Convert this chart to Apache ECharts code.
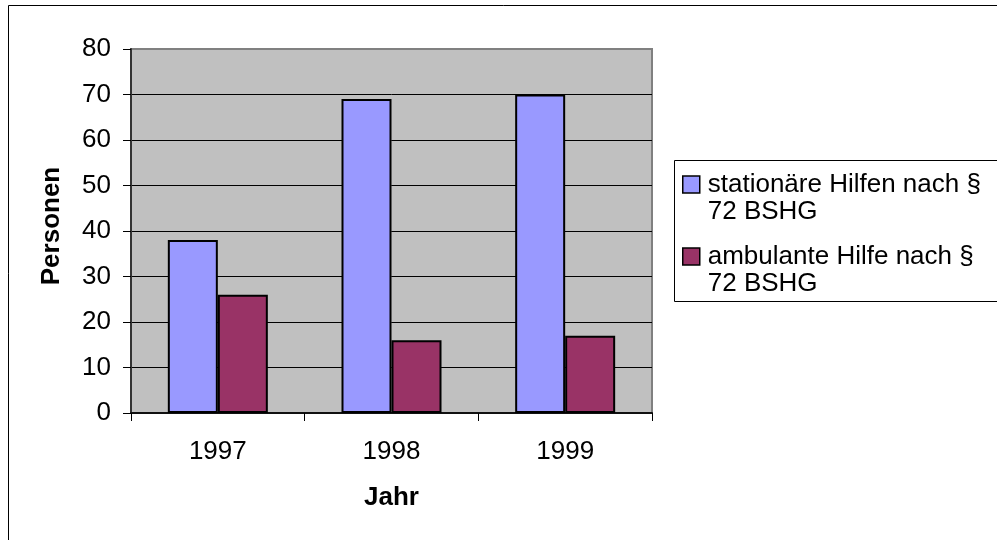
<!DOCTYPE html>
<html>
<head>
<meta charset="utf-8">
<script src="https://cdn.jsdelivr.net/npm/echarts@6/dist/echarts.min.js"></script>
<style>
  html, body { margin: 0; padding: 0; background: #fff; }
  #chart { width: 997px; height: 540px; }
</style>
</head>
<body>
<div id="chart"></div>
<script>
// data
const years = ["1997", "1998", "1999"];
const stationaer = [38, 69, 70];
const ambulant = [26, 16, 17];
const seriesNames = ["stationäre Hilfen nach § 72 BSHG", "ambulante Hilfe nach § 72 BSHG"];
const legendLabels = {
  "stationäre Hilfen nach § 72 BSHG": "stationäre Hilfen nach §\n72 BSHG",
  "ambulante Hilfe nach § 72 BSHG": "ambulante Hilfe nach §\n72 BSHG"
};

const font = "Liberation Sans, Arial, sans-serif";
const fs = 26;
const chart = echarts.init(document.getElementById("chart"), null, { renderer: "canvas" });

chart.setOption({
  backgroundColor: "#fff",
  animation: false,
  textStyle: { fontFamily: font },
  grid: {
    left: 131,
    top: 49,
    right: 345,
    bottom: 127,
    show: true,
    backgroundColor: "#C0C0C0",
    borderColor: "#808080",
    borderWidth: 2
  },
  legend: {
    orient: "vertical",
    left: 682,
    top: 144,
    padding: 0,
    itemGap: -9,
    itemWidth: 17,
    itemHeight: 17,
    icon: "rect",
    data: seriesNames,
    // leading blank line keeps the icon level with the first text line
    formatter: (name) => "\n" + legendLabels[name],
    itemStyle: { borderColor: "#000", borderWidth: 1.5 },
    textStyle: {
      fontSize: fs,
      lineHeight: 27,
      color: "#000",
      fontFamily: font,
      padding: [0, 0, 0, 3]
    }
  },
  graphic: [
    {
      type: "rect",
      shape: { x: 8.5, y: 5.5, width: 1000, height: 600 },
      style: { fill: null, stroke: "#000", lineWidth: 1 },
      silent: true,
      z: -1
    },
    {
      type: "rect",
      shape: { x: 674.5, y: 160.5, width: 400, height: 141 },
      style: { fill: "#fff", stroke: "#000", lineWidth: 1 },
      silent: true,
      z: -1
    }
  ],
  xAxis: {
    type: "category",
    data: years,
    name: "Jahr",
    nameLocation: "middle",
    nameGap: 72,
    nameTextStyle: { fontSize: fs, fontWeight: "bold", color: "#000", fontFamily: font },
    axisLine: { lineStyle: { color: "#111", width: 2 } },
    axisTick: { show: true, length: 8, lineStyle: { color: "#000" } },
    axisLabel: { fontSize: fs, color: "#000", margin: 26, fontFamily: font }
  },
  yAxis: {
    type: "value",
    min: 0,
    max: 80,
    interval: 10,
    name: "Personen",
    nameLocation: "middle",
    nameRotate: 90,
    nameGap: 66,
    nameTextStyle: {
      fontSize: fs,
      fontWeight: "bold",
      color: "#000",
      fontFamily: font,
      padding: [0, 0, 0, 10]
    },
    axisLine: { show: true, lineStyle: { color: "#333", width: 2 } },
    axisTick: { show: true, length: 8, lineStyle: { color: "#000" } },
    axisLabel: { fontSize: fs, color: "#000", margin: 20, fontFamily: font },
    splitLine: { showMaxLine: false, lineStyle: { color: "#000", width: 1 } }
  },
  series: [
    {
      name: seriesNames[0],
      type: "bar",
      data: stationaer,
      barWidth: 50,
      barGap: "0%",
      itemStyle: { color: "#9999FF", borderColor: "#000", borderWidth: 2 }
    },
    {
      name: seriesNames[1],
      type: "bar",
      data: ambulant,
      barWidth: 50,
      itemStyle: { color: "#993366", borderColor: "#000", borderWidth: 2 }
    }
  ]
});
</script>
</body>
</html>
